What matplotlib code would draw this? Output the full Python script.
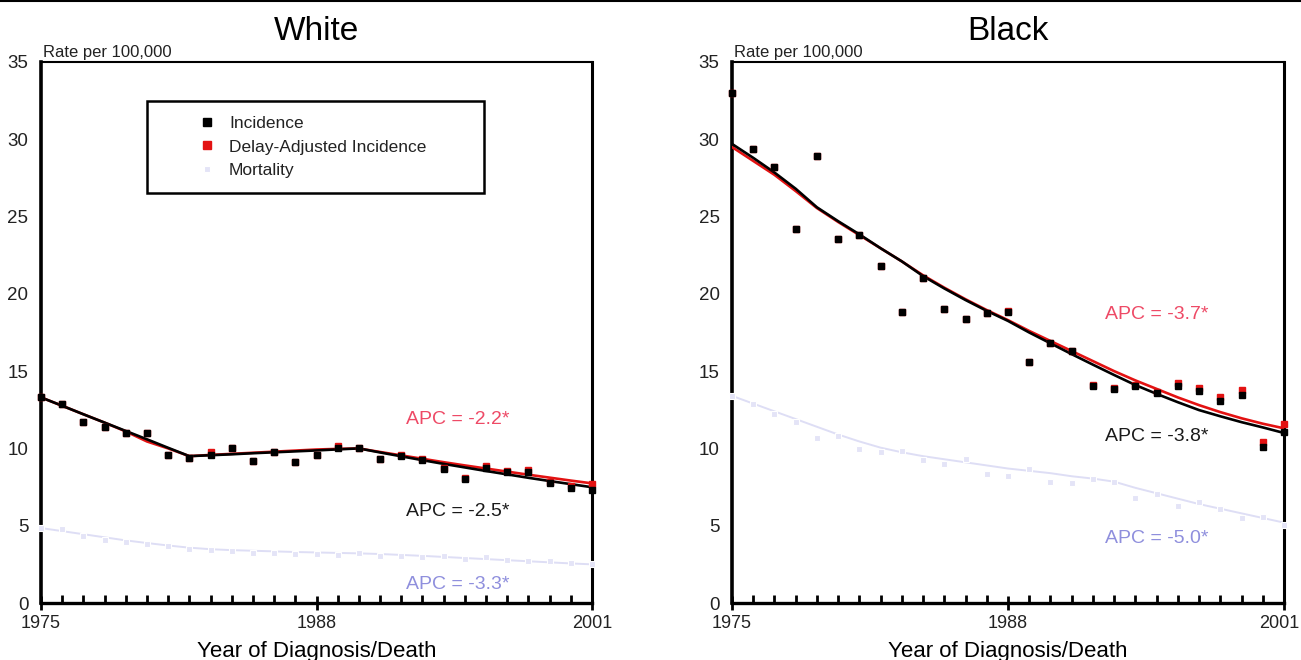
import matplotlib
matplotlib.use("Agg")
import matplotlib.pyplot as plt
from matplotlib.patches import Rectangle
from matplotlib.ticker import MultipleLocator, FixedLocator
from matplotlib.transforms import ScaledTranslation

plt.rcParams['font.family'] = ['Liberation Sans', 'DejaVu Sans']

years = list(range(1975, 2002))

# ---- White ----
white_inc = [13.3, 12.9, 11.7, 11.4, 11.0, 11.0, 9.6, 9.4, 9.6, 10.0, 9.2, 9.8, 9.1, 9.6,
             10.05, 10.0, 9.3, 9.5, 9.25, 8.7, 8.05, 8.75, 8.45, 8.45, 7.75, 7.45, 7.3]
white_delay = [13.3, 12.9, 11.7, 11.4, 11.0, 11.0, 9.6, 9.4, 9.8, 10.0, 9.2, 9.8, 9.1, 9.6,
               10.15, 10.0, 9.3, 9.55, 9.3, 8.75, 8.1, 8.85, 8.55, 8.6, 7.8, 7.55, 7.7]
white_mort = [4.85, 4.8, 4.35, 4.1, 3.95, 3.8, 3.7, 3.5, 3.4, 3.35, 3.25, 3.25, 3.2, 3.2,
              3.1, 3.25, 3.05, 3.05, 3.0, 3.05, 2.85, 3.0, 2.8, 2.7, 2.7, 2.6, 2.5]
white_inc_fit = [13.3, 12.76, 12.21, 11.67, 11.13, 10.59, 10.04, 9.5, 9.56, 9.62, 9.69, 9.75,
                 9.81, 9.87, 9.94, 10.0, 9.74, 9.49, 9.24, 9.0, 8.77, 8.54, 8.32, 8.1, 7.89,
                 7.69, 7.49]
white_delay_fit = [13.3, 12.76, 12.21, 11.67, 11.1, 10.45, 10.0, 9.5, 9.58, 9.65, 9.72, 9.79,
                   9.86, 9.93, 9.97, 10.0, 9.77, 9.55, 9.33, 9.11, 8.9, 8.7, 8.5, 8.3, 8.11,
                   7.92, 7.74]
white_mort_fit = [4.85, 4.65, 4.45, 4.25, 4.05, 3.88, 3.72, 3.58, 3.48, 3.42, 3.38, 3.34, 3.3,
                  3.27, 3.24, 3.21, 3.17, 3.11, 3.05, 2.98, 2.91, 2.84, 2.77, 2.7, 2.63, 2.56,
                  2.5]

# ---- Black ----
black_inc = [33.0, 29.4, 28.2, 24.2, 28.9, 23.55, 23.8, 21.8, 18.85, 21.0, 19.05, 18.35, 18.75,
             18.85, 15.6, 16.8, 16.3, 14.05, 13.85, 14.05, 13.6, 14.05, 13.7, 13.05, 13.45,
             10.1, 11.05]
black_delay = [33.0, 29.4, 28.2, 24.2, 28.9, 23.55, 23.8, 21.8, 18.85, 21.0, 19.05, 18.35, 18.75,
               18.9, 15.6, 16.8, 16.3, 14.1, 13.9, 14.1, 13.65, 14.25, 13.9, 13.35, 13.75,
               10.4, 11.6]
black_mort = [13.4, 12.9, 12.2, 11.7, 10.7, 10.8, 9.95, 9.8, 9.85, 9.25, 9.0, 9.3, 8.35, 8.2,
              8.7, 7.85, 7.75, 8.05, 7.85, 6.8, 7.05, 6.3, 6.55, 6.05, 5.5, 5.55, 5.05]
black_inc_fit = [29.7, 28.8, 27.85, 26.8, 25.6, 24.7, 23.85, 22.95, 22.1, 21.15, 20.35, 19.6,
                 18.9, 18.25, 17.5, 16.8, 16.1, 15.42, 14.75, 14.1, 13.53, 12.99, 12.48, 12.08,
                 11.7, 11.36, 11.0]
black_delay_fit = [29.5, 28.6, 27.7, 26.65, 25.55, 24.65, 23.8, 22.95, 22.1, 21.2, 20.4, 19.65,
                   18.95, 18.3, 17.6, 16.95, 16.3, 15.65, 15.0, 14.4, 13.85, 13.3, 12.8, 12.35,
                   11.95, 11.6, 11.3]
black_mort_fit = [13.4, 12.9, 12.4, 11.9, 11.4, 10.9, 10.45, 10.05, 9.75, 9.5, 9.3, 9.1, 8.9,
                  8.7, 8.55, 8.4, 8.2, 8.05, 7.85, 7.45, 7.1, 6.75, 6.4, 6.1, 5.8, 5.5, 5.2]

panel_titles = ["White", "Black"]
apc_white = ["APC = -2.2*", "APC = -2.5*", "APC = -3.3*"]
apc_black = ["APC = -3.7*", "APC = -3.8*", "APC = -5.0*"]
legend_labels = ["Incidence", "Delay-Adjusted Incidence", "Mortality"]
y_ticks = [0, 5, 10, 15, 20, 25, 30, 35]
x_major = [1975, 1988, 2001]

RED = "#e31212"
MORT = "#dedef5"
MORT_PT = "#e4e4f7"
APC_RED = "#ee4a66"
APC_MORT = "#8f8fdd"

fig = plt.figure(figsize=(13.01, 6.6), dpi=100)
W, H = 1301, 660


def make_ax(x0, x1, y0=62, y1=603):
    return fig.add_axes([x0 / W, 1 - y1 / H, (x1 - x0) / W, (y1 - y0) / H])


axes = [make_ax(41, 592), make_ax(732, 1284)]
datasets = [
    (white_inc, white_delay, white_mort, white_inc_fit, white_delay_fit, white_mort_fit, apc_white),
    (black_inc, black_delay, black_mort, black_inc_fit, black_delay_fit, black_mort_fit, apc_black),
]
apc_pos = [
    [(1992.2, 11.84), (1992.2, 5.92), (1992.2, 1.17)],
    [(1992.55, 18.67), (1992.55, 10.8), (1992.55, 4.16)],
]

for i, (ax, ds) in enumerate(zip(axes, datasets)):
    inc, dly, mort, inc_f, dly_f, mort_f, apcs = ds
    ax.plot(years, mort_f, color=MORT, lw=1.4, zorder=2)
    ax.plot(years, dly_f, color=RED, lw=1.9, zorder=3)
    ax.plot(years, inc_f, color="black", lw=1.9, zorder=4)
    h1 = ax.plot(years, dly, ls="none", marker="s", ms=5.0, color=RED, mec=RED,
                 zorder=5, clip_on=False, label=legend_labels[1])[0]
    h0 = ax.plot(years, inc, ls="none", marker="s", ms=5.0, color="black", mec="black",
                 zorder=6, clip_on=False, label=legend_labels[0])[0]
    h2 = ax.plot(years, mort, ls="none", marker="s", ms=4.3, color=MORT_PT, mec="white",
                 mew=0.8, zorder=7, clip_on=False, label=legend_labels[2])[0]

    ax.set_xlim(1975, 2001)
    ax.set_ylim(0, 35)
    ax.yaxis.set_major_locator(FixedLocator(y_ticks))
    ax.xaxis.set_major_locator(FixedLocator(x_major))
    ax.xaxis.set_minor_locator(MultipleLocator(1))
    ax.tick_params(axis="y", length=0, pad=9, labelsize=13.5, labelcolor="#222222")
    ax.tick_params(axis="x", which="major", direction="inout", length=10, width=2,
                   pad=4, labelsize=13, labelcolor="#222222")
    ax.tick_params(axis="x", which="minor", direction="in", length=6, width=2)
    for side, lw in [("left", 2.6), ("bottom", 2.4), ("right", 2.2), ("top", 1.5)]:
        ax.spines[side].set_linewidth(lw)
    ax.set_title(panel_titles[i], fontsize=24, pad=16)
    ax.set_xlabel("Year of Diagnosis/Death", fontsize=16, labelpad=6)
    ax.text(0.004, 1.003, "Rate per 100,000", transform=ax.transAxes, fontsize=12,
            ha="left", va="bottom", color="#222222")

    colors = [APC_RED, "#1a1a1a", APC_MORT]
    for (px, py), txt, c in zip(apc_pos[i], apcs, colors):
        ax.text(px, py, txt, color=c, fontsize=14, ha="left", va="center")

    if i == 0:
        ax.add_patch(Rectangle((0.192, 0.758), 0.612, 0.170, transform=ax.transAxes,
                               fill=False, lw=1.8, ec="black", zorder=8))
        leg = ax.legend(handles=[h0, h1, h2], loc="upper left",
                        bbox_to_anchor=(0.2875, 0.901), frameon=False, fontsize=12.5,
                        handlelength=0.9, handletextpad=0.8, labelspacing=0.5,
                        borderpad=0, borderaxespad=0, markerscale=1.1)
        for t in leg.get_texts():
            t.set_color("#222222")

# keep the right panel's "2001" label just inside the figure edge
fig.canvas.draw()
last = axes[1].xaxis.get_majorticklabels()[-1]
last.set_transform(last.get_transform() + ScaledTranslation(-5 / 100, 0, fig.dpi_scale_trans))

fig.add_artist(plt.Line2D([0, 1], [0.9985, 0.9985], color="black", lw=1.5,
                          transform=fig.transFigure))

fig.savefig("out.png", dpi=100)
